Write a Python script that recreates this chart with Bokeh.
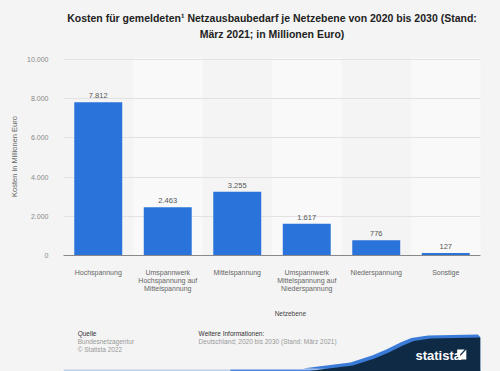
from bokeh.plotting import figure
from bokeh.layouts import column
from bokeh.models import Range1d, FixedTicker, Label, LabelSet, ColumnDataSource
from bokeh.core.properties import value
from bokeh.embed import file_html
from bokeh.resources import INLINE

categories = [
    "Hochspannung",
    "Umspannwerk\nHochspannung auf\nMittelspannung",
    "Mittelspannung",
    "Umspannwerk\nMittelspannung auf\nNiederspannung",
    "Niederspannung",
    "Sonstige",
]
values = [7812, 2463, 3255, 1617, 776, 127]
value_labels = ["7.812", "2.463", "3.255", "1.617", "776", "127"]
y_ticks = [0, 2000, 4000, 6000, 8000, 10000]
y_tick_labels = ["0", "2.000", "4.000", "6.000", "8.000", "10.000"]
band_categories = [categories[1], categories[3], categories[5]]

FONT = "Liberation Sans"
BG = "#f4f4f4"
W = 500
TOP_H, MAIN_H, FOOT_H = 48, 257, 66


def blank(height, y0, y1):
    f = figure(width=W, height=height, x_range=Range1d(0, W), y_range=Range1d(y1, y0),
               x_axis_type=None, y_axis_type=None, output_backend="svg",
               toolbar_location=None, min_border=0)
    f.background_fill_color = BG
    f.border_fill_color = BG
    f.outline_line_color = None
    f.grid.visible = False
    return f


def lab(f, text, X, Y, size="6.5px", color="#333333", style="normal", align="left"):
    f.add_layout(Label(x=X, y=Y, text=text, text_font_size=size, text_color=color,
                       text_font_style=style, text_align=align,
                       text_baseline="middle", text_font=FONT))


# ---- title area ----
top = blank(TOP_H, 0, TOP_H)
lab(top, "Kosten für gemeldeten¹ Netzausbaubedarf je Netzebene von 2020 bis 2030 (Stand:",
    250, 17, size="10.5px", color="#222222", style="bold", align="center")
lab(top, "März 2021; in Millionen Euro)", 250, 33, size="10.5px", color="#222222",
    style="bold", align="center")

# ---- main chart ----
p = figure(
    width=W, height=MAIN_H, x_range=categories, y_range=Range1d(0, 10100),
    output_backend="svg", toolbar_location=None,
    min_border_left=63, min_border_right=20, min_border_top=9, min_border_bottom=50,
)
p.background_fill_color = BG
p.border_fill_color = BG
p.outline_line_color = None

p.vbar(x=band_categories, top=[10100] * 3, width=1.0, fill_color="#f9f9f9",
       line_color=None, level="image")

src = ColumnDataSource(dict(x=categories, top=values, lab=value_labels))
p.vbar(x="x", top="top", width=0.69, source=src, fill_color="#2a73da", line_color=None)
p.add_layout(LabelSet(x="x", y="top", text="lab", source=src, y_offset=4,
                      text_align="center", text_baseline="bottom",
                      text_font_size="7.5px", text_color="#555555",
                      text_font=value(FONT)))

p.xgrid.grid_line_color = None
p.ygrid.grid_line_color = "#e2e2e2"
p.ygrid.ticker = FixedTicker(ticks=y_ticks[1:])

p.yaxis.ticker = FixedTicker(ticks=y_ticks)
p.yaxis.major_label_overrides = {t: l for t, l in zip(y_ticks, y_tick_labels)}
p.yaxis.axis_line_color = None
p.yaxis.major_tick_line_color = None
p.yaxis.minor_tick_line_color = None
p.yaxis.major_label_standoff = 9
p.yaxis.major_label_text_font_size = "7px"
p.yaxis.major_label_text_color = "#888888"
p.yaxis.major_label_text_font = FONT
p.yaxis.axis_label = "Kosten in Millionen Euro"
p.yaxis.axis_label_text_font_size = "7.5px"
p.yaxis.axis_label_text_font_style = "normal"
p.yaxis.axis_label_text_color = "#666666"
p.yaxis.axis_label_text_font = FONT
p.yaxis.axis_label_standoff = 5

p.xaxis.axis_line_color = "#888888"
p.xaxis.axis_line_width = 1.2
p.xaxis.major_tick_line_color = None
p.xaxis.minor_tick_line_color = None
p.xaxis.major_label_standoff = 7
p.xaxis.major_label_text_font_size = "7px"
p.xaxis.major_label_text_color = "#666666"
p.xaxis.major_label_text_font = FONT
p.xaxis.major_label_text_line_height = 1.15

# ---- footer ----
y0 = TOP_H + MAIN_H
foot = blank(FOOT_H, y0, y0 + FOOT_H)
lab(foot, "Netzebene", 272, 313, size="6.5px", color="#444444", align="center")
lab(foot, "Quelle", 17, 333, color="#333333")
lab(foot, "Bundesnetzagentur", 17, 341, color="#999999")
lab(foot, "© Statista 2022", 17, 349, color="#999999")
lab(foot, "Weitere Informationen:", 162, 333, color="#333333")
lab(foot, "Deutschland; 2020 bis 2030 (Stand: März 2021)", 162, 341, color="#999999")

curve_x = [290, 313, 347, 373, 390, 407, 420, 440, 500]
curve_y = [371, 368.5, 365, 358, 352, 345, 340.5, 338, 337]
foot.segment(x0=[0, 200], y0=[370, 370], x1=[200, 500], y1=[370, 370],
             line_color="#3b7bd8", line_alpha=[0.3, 0.9], line_width=2)
foot.patch([x - 3 for x in curve_x] + [500, 500], [y - 3 for y in curve_y] + [337, 371],
           fill_color="#3b7bd8", line_color=None)
foot.patch(curve_x + [500], curve_y + [371], fill_color="#0f2a45", line_color=None)
lab(foot, "statista", 422, 354.5, size="13px", color="#ffffff", style="bold")
foot.patch([472, 483, 483], [359, 349, 359], fill_color="#ffffff", line_color=None)
foot.patch([472, 481, 472], [349, 349, 357], fill_color="#ffffff", line_color=None)

layout = column(top, p, foot, spacing=0, styles={"background-color": BG})
open("out.html", "w").write(file_html(layout, INLINE))
